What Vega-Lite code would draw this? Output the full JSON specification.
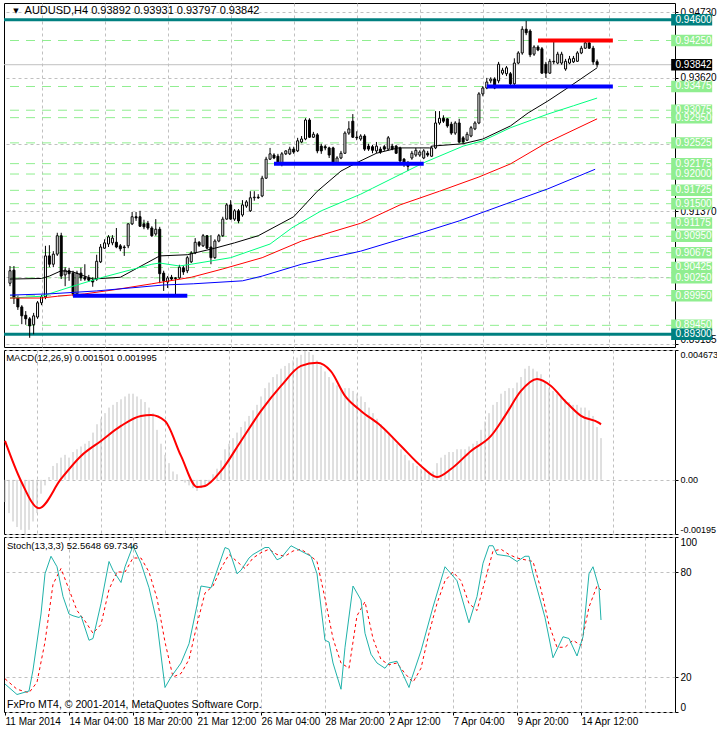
{
"$schema": "https://vega.github.io/schema/vega-lite/v6.json",
"background": "white",
"padding": {"left": 0, "top": 2, "right": 0, "bottom": 0},
"spacing": 3,
"bounds": "flush",
"config": {
  "font": "Liberation Sans",
  "view": {"stroke": "black", "strokeWidth": 1},
  "axis": {"gridColor": "#C0C0C0", "gridDash": [3, 3], "gridWidth": 1, "labelFont": "Liberation Sans", "labelFontSize": 10, "labelColor": "black", "tickColor": "black", "tickSize": 3, "domain": false, "labelPadding": 2}
},
"resolve": {"scale": {"x": "independent", "y": "independent"}},
"datasets": {
  "tags": [
    {"p": 0.9425, "k": "level"}, {"p": 0.93475, "k": "level"}, {"p": 0.93075, "k": "level"}, {"p": 0.9295, "k": "level"},
    {"p": 0.92525, "k": "level"}, {"p": 0.92175, "k": "level"}, {"p": 0.92, "k": "level"}, {"p": 0.91725, "k": "level"},
    {"p": 0.915, "k": "level"}, {"p": 0.91175, "k": "level"}, {"p": 0.9095, "k": "level"}, {"p": 0.90675, "k": "level"},
    {"p": 0.90425, "k": "level"}, {"p": 0.9025, "k": "level"}, {"p": 0.8995, "k": "level"}, {"p": 0.8945, "k": "level"},
    {"p": 0.946, "k": "teal"}, {"p": 0.893, "k": "teal"}, {"p": 0.93842, "k": "bid"}
  ],
  "segs": [
    {"a": 134, "b": 153, "p": 0.9425, "k": "r"},
    {"a": 121, "b": 153, "p": 0.93475, "k": "b"},
    {"a": 67, "b": 105, "p": 0.92175, "k": "b"},
    {"a": 16, "b": 45, "p": 0.8995, "k": "b"}
  ],
  "candles": [
    {"i":0,"o":0.9016,"h":0.9045,"l":0.9011,"c":0.9037},
    {"i":1,"o":0.9038,"h":0.9045,"l":0.8981,"c":0.8991},
    {"i":2,"o":0.8991,"h":0.8994,"l":0.8971,"c":0.8976},
    {"i":3,"o":0.8976,"h":0.8979,"l":0.8947,"c":0.8961},
    {"i":4,"o":0.8962,"h":0.8969,"l":0.8946,"c":0.8956},
    {"i":5,"o":0.8956,"h":0.8959,"l":0.8924,"c":0.8944},
    {"i":6,"o":0.8946,"h":0.8966,"l":0.8930,"c":0.8961},
    {"i":7,"o":0.8959,"h":0.8986,"l":0.8956,"c":0.8983},
    {"i":8,"o":0.8983,"h":0.8996,"l":0.8979,"c":0.8993},
    {"i":9,"o":0.8993,"h":0.9079,"l":0.8989,"c":0.9062},
    {"i":10,"o":0.9062,"h":0.9080,"l":0.9043,"c":0.9048},
    {"i":11,"o":0.9048,"h":0.9070,"l":0.9043,"c":0.9065},
    {"i":12,"o":0.9065,"h":0.9101,"l":0.9062,"c":0.9096},
    {"i":13,"o":0.9096,"h":0.9101,"l":0.9023,"c":0.9028},
    {"i":14,"o":0.9030,"h":0.9043,"l":0.9011,"c":0.9038},
    {"i":15,"o":0.9037,"h":0.9042,"l":0.9020,"c":0.9032},
    {"i":16,"o":0.9033,"h":0.9037,"l":0.8994,"c":0.8998},
    {"i":17,"o":0.8998,"h":0.9037,"l":0.8994,"c":0.9033},
    {"i":18,"o":0.9033,"h":0.9042,"l":0.9020,"c":0.9025},
    {"i":19,"o":0.9026,"h":0.9048,"l":0.9020,"c":0.9023},
    {"i":20,"o":0.9025,"h":0.9030,"l":0.9018,"c":0.9021},
    {"i":21,"o":0.9021,"h":0.9026,"l":0.9010,"c":0.9018},
    {"i":22,"o":0.9023,"h":0.9064,"l":0.9020,"c":0.9053},
    {"i":23,"o":0.9052,"h":0.9082,"l":0.9050,"c":0.9077},
    {"i":24,"o":0.9075,"h":0.9090,"l":0.9074,"c":0.9084},
    {"i":25,"o":0.9082,"h":0.9097,"l":0.9077,"c":0.9094},
    {"i":26,"o":0.9084,"h":0.9097,"l":0.9080,"c":0.9092},
    {"i":27,"o":0.9085,"h":0.9109,"l":0.9075,"c":0.9077},
    {"i":28,"o":0.9079,"h":0.9082,"l":0.9070,"c":0.9074},
    {"i":29,"o":0.9077,"h":0.9080,"l":0.9062,"c":0.9076},
    {"i":30,"o":0.9079,"h":0.9117,"l":0.9075,"c":0.9116},
    {"i":31,"o":0.9116,"h":0.9136,"l":0.9114,"c":0.9128},
    {"i":32,"o":0.9128,"h":0.9136,"l":0.9121,"c":0.9126},
    {"i":33,"o":0.9128,"h":0.9138,"l":0.9111,"c":0.9112},
    {"i":34,"o":0.9116,"h":0.9123,"l":0.9107,"c":0.9111},
    {"i":35,"o":0.9117,"h":0.9121,"l":0.9106,"c":0.9109},
    {"i":36,"o":0.9109,"h":0.9112,"l":0.9094,"c":0.9096},
    {"i":37,"o":0.9099,"h":0.9124,"l":0.9096,"c":0.9107},
    {"i":38,"o":0.9107,"h":0.9111,"l":0.9016,"c":0.9032},
    {"i":39,"o":0.9033,"h":0.9037,"l":0.9003,"c":0.9020},
    {"i":40,"o":0.9018,"h":0.9028,"l":0.9008,"c":0.9025},
    {"i":41,"o":0.9026,"h":0.9030,"l":0.9020,"c":0.9023},
    {"i":42,"o":0.9025,"h":0.9026,"l":0.8994,"c":0.9024},
    {"i":43,"o":0.9025,"h":0.9047,"l":0.9023,"c":0.9043},
    {"i":44,"o":0.9042,"h":0.9045,"l":0.9030,"c":0.9035},
    {"i":45,"o":0.9037,"h":0.9062,"l":0.9033,"c":0.9059},
    {"i":46,"o":0.9052,"h":0.9070,"l":0.9050,"c":0.9067},
    {"i":47,"o":0.9067,"h":0.9092,"l":0.9065,"c":0.9085},
    {"i":48,"o":0.9085,"h":0.9087,"l":0.9077,"c":0.9080},
    {"i":49,"o":0.9079,"h":0.9099,"l":0.9077,"c":0.9096},
    {"i":50,"o":0.9096,"h":0.9097,"l":0.9074,"c":0.9075},
    {"i":51,"o":0.9077,"h":0.9097,"l":0.9048,"c":0.9059},
    {"i":52,"o":0.9059,"h":0.9090,"l":0.9057,"c":0.9087},
    {"i":53,"o":0.9087,"h":0.9099,"l":0.9085,"c":0.9096},
    {"i":54,"o":0.9096,"h":0.9128,"l":0.9094,"c":0.9124},
    {"i":55,"o":0.9124,"h":0.9151,"l":0.9123,"c":0.9148},
    {"i":56,"o":0.9148,"h":0.9156,"l":0.9123,"c":0.9124},
    {"i":57,"o":0.9124,"h":0.9141,"l":0.9121,"c":0.9138},
    {"i":58,"o":0.9138,"h":0.9141,"l":0.9117,"c":0.9121},
    {"i":59,"o":0.9131,"h":0.9156,"l":0.9128,"c":0.9148},
    {"i":60,"o":0.9146,"h":0.9156,"l":0.9143,"c":0.9153},
    {"i":61,"o":0.9138,"h":0.9171,"l":0.9136,"c":0.9160},
    {"i":62,"o":0.9160,"h":0.9171,"l":0.9155,"c":0.9161},
    {"i":63,"o":0.9161,"h":0.9166,"l":0.9158,"c":0.9160},
    {"i":64,"o":0.9163,"h":0.9197,"l":0.9161,"c":0.9193},
    {"i":65,"o":0.9193,"h":0.9229,"l":0.9192,"c":0.9225},
    {"i":66,"o":0.9225,"h":0.9244,"l":0.9224,"c":0.9234},
    {"i":67,"o":0.9232,"h":0.9235,"l":0.9225,"c":0.9227},
    {"i":68,"o":0.9230,"h":0.9234,"l":0.9215,"c":0.9217},
    {"i":69,"o":0.9217,"h":0.9237,"l":0.9213,"c":0.9234},
    {"i":70,"o":0.9234,"h":0.9240,"l":0.9232,"c":0.9239},
    {"i":71,"o":0.9234,"h":0.9246,"l":0.9232,"c":0.9242},
    {"i":72,"o":0.9242,"h":0.9246,"l":0.9234,"c":0.9237},
    {"i":73,"o":0.9239,"h":0.9261,"l":0.9237,"c":0.9256},
    {"i":74,"o":0.9254,"h":0.9264,"l":0.9252,"c":0.9259},
    {"i":75,"o":0.9259,"h":0.9294,"l":0.9257,"c":0.9291},
    {"i":76,"o":0.9291,"h":0.9294,"l":0.9261,"c":0.9262},
    {"i":77,"o":0.9262,"h":0.9271,"l":0.9261,"c":0.9267},
    {"i":78,"o":0.9266,"h":0.9269,"l":0.9235,"c":0.9239},
    {"i":79,"o":0.9247,"h":0.9251,"l":0.9234,"c":0.9239},
    {"i":80,"o":0.9246,"h":0.9249,"l":0.9240,"c":0.9244},
    {"i":81,"o":0.9244,"h":0.9246,"l":0.9227,"c":0.9232},
    {"i":82,"o":0.9244,"h":0.9246,"l":0.9215,"c":0.9217},
    {"i":83,"o":0.9219,"h":0.9230,"l":0.9217,"c":0.9227},
    {"i":84,"o":0.9227,"h":0.9239,"l":0.9225,"c":0.9235},
    {"i":85,"o":0.9235,"h":0.9272,"l":0.9234,"c":0.9269},
    {"i":86,"o":0.9269,"h":0.9289,"l":0.9266,"c":0.9276},
    {"i":87,"o":0.9289,"h":0.9301,"l":0.9261,"c":0.9262},
    {"i":88,"o":0.9262,"h":0.9272,"l":0.9257,"c":0.9261},
    {"i":89,"o":0.9259,"h":0.9267,"l":0.9256,"c":0.9264},
    {"i":90,"o":0.9264,"h":0.9267,"l":0.9239,"c":0.9242},
    {"i":91,"o":0.9247,"h":0.9251,"l":0.9239,"c":0.9242},
    {"i":92,"o":0.9246,"h":0.9249,"l":0.9235,"c":0.9240},
    {"i":93,"o":0.9239,"h":0.9254,"l":0.9235,"c":0.9247},
    {"i":94,"o":0.9242,"h":0.9246,"l":0.9234,"c":0.9237},
    {"i":95,"o":0.9246,"h":0.9249,"l":0.9239,"c":0.9242},
    {"i":96,"o":0.9242,"h":0.9264,"l":0.9240,"c":0.9261},
    {"i":97,"o":0.9247,"h":0.9251,"l":0.9240,"c":0.9242},
    {"i":98,"o":0.9247,"h":0.9249,"l":0.9234,"c":0.9235},
    {"i":99,"o":0.9244,"h":0.9246,"l":0.9220,"c":0.9222},
    {"i":100,"o":0.9225,"h":0.9227,"l":0.9212,"c":0.9217},
    {"i":101,"o":0.9219,"h":0.9222,"l":0.9205,"c":0.9213},
    {"i":102,"o":0.9227,"h":0.9239,"l":0.9224,"c":0.9235},
    {"i":103,"o":0.9232,"h":0.9244,"l":0.9229,"c":0.9240},
    {"i":104,"o":0.9232,"h":0.9240,"l":0.9229,"c":0.9237},
    {"i":105,"o":0.9227,"h":0.9242,"l":0.9225,"c":0.9239},
    {"i":106,"o":0.9235,"h":0.9239,"l":0.9229,"c":0.9232},
    {"i":107,"o":0.9230,"h":0.9247,"l":0.9229,"c":0.9244},
    {"i":108,"o":0.9244,"h":0.9306,"l":0.9242,"c":0.9286},
    {"i":109,"o":0.9286,"h":0.9306,"l":0.9283,"c":0.9294},
    {"i":110,"o":0.9294,"h":0.9299,"l":0.9286,"c":0.9289},
    {"i":111,"o":0.9293,"h":0.9294,"l":0.9278,"c":0.9281},
    {"i":112,"o":0.9284,"h":0.9288,"l":0.9266,"c":0.9269},
    {"i":113,"o":0.9269,"h":0.9289,"l":0.9266,"c":0.9286},
    {"i":114,"o":0.9286,"h":0.9293,"l":0.9252,"c":0.9254},
    {"i":115,"o":0.9261,"h":0.9264,"l":0.9251,"c":0.9254},
    {"i":116,"o":0.9257,"h":0.9271,"l":0.9256,"c":0.9267},
    {"i":117,"o":0.9264,"h":0.9281,"l":0.9262,"c":0.9278},
    {"i":118,"o":0.9276,"h":0.9289,"l":0.9274,"c":0.9286},
    {"i":119,"o":0.9286,"h":0.9338,"l":0.9284,"c":0.9335},
    {"i":120,"o":0.9335,"h":0.9348,"l":0.9331,"c":0.9345},
    {"i":121,"o":0.9345,"h":0.9362,"l":0.9343,"c":0.9355},
    {"i":122,"o":0.9357,"h":0.9363,"l":0.9353,"c":0.9360},
    {"i":123,"o":0.9360,"h":0.9363,"l":0.9343,"c":0.9345},
    {"i":124,"o":0.9357,"h":0.9389,"l":0.9353,"c":0.9385},
    {"i":125,"o":0.9370,"h":0.9379,"l":0.9367,"c":0.9375},
    {"i":126,"o":0.9369,"h":0.9382,"l":0.9365,"c":0.9379},
    {"i":127,"o":0.9369,"h":0.9372,"l":0.9348,"c":0.9352},
    {"i":128,"o":0.9352,"h":0.9395,"l":0.9348,"c":0.9387},
    {"i":129,"o":0.9387,"h":0.9407,"l":0.9385,"c":0.9404},
    {"i":130,"o":0.9404,"h":0.9449,"l":0.9401,"c":0.9444},
    {"i":131,"o":0.9444,"h":0.9458,"l":0.9434,"c":0.9438},
    {"i":132,"o":0.9441,"h":0.9444,"l":0.9397,"c":0.9401},
    {"i":133,"o":0.9402,"h":0.9417,"l":0.9399,"c":0.9414},
    {"i":134,"o":0.9414,"h":0.9417,"l":0.9407,"c":0.9409},
    {"i":135,"o":0.9411,"h":0.9414,"l":0.9369,"c":0.9370},
    {"i":136,"o":0.9385,"h":0.9389,"l":0.9362,"c":0.9370},
    {"i":137,"o":0.9370,"h":0.9394,"l":0.9369,"c":0.9390},
    {"i":138,"o":0.9390,"h":0.9424,"l":0.9385,"c":0.9389},
    {"i":139,"o":0.9387,"h":0.9406,"l":0.9385,"c":0.9402},
    {"i":140,"o":0.9387,"h":0.9406,"l":0.9384,"c":0.9402},
    {"i":141,"o":0.9377,"h":0.9394,"l":0.9374,"c":0.9390},
    {"i":142,"o":0.9387,"h":0.9399,"l":0.9385,"c":0.9394},
    {"i":143,"o":0.9389,"h":0.9399,"l":0.9387,"c":0.9395},
    {"i":144,"o":0.9390,"h":0.9407,"l":0.9389,"c":0.9404},
    {"i":145,"o":0.9404,"h":0.9416,"l":0.9402,"c":0.9412},
    {"i":146,"o":0.9412,"h":0.9424,"l":0.9411,"c":0.9421},
    {"i":147,"o":0.9421,"h":0.9424,"l":0.9411,"c":0.9412},
    {"i":148,"o":0.9412,"h":0.9416,"l":0.9384,"c":0.9389},
    {"i":149,"o":0.93892,"h":0.93931,"l":0.93797,"c":0.93842}
  ],
  "ma": [
    {"i":0,"s":"a","v":0.9023},{"i":8,"s":"a","v":0.9024},{"i":10,"s":"a","v":0.9028},{"i":13,"s":"a","v":0.9037},{"i":16,"s":"a","v":0.9035},{"i":21,"s":"a","v":0.9023},{"i":28,"s":"a","v":0.9026},{"i":38,"s":"a","v":0.9062},{"i":45,"s":"a","v":0.9064},{"i":52,"s":"a","v":0.9075},{"i":57,"s":"a","v":0.9084},{"i":63,"s":"a","v":0.9096},{"i":72,"s":"a","v":0.9128},{"i":78,"s":"a","v":0.9171},{"i":84,"s":"a","v":0.9205},{"i":88,"s":"a","v":0.9219},{"i":93,"s":"a","v":0.9235},{"i":98.5,"s":"a","v":0.9244},{"i":106.5,"s":"a","v":0.9244},{"i":107,"s":"a","v":0.9247},{"i":115,"s":"a","v":0.9251},{"i":120,"s":"a","v":0.9259},{"i":127,"s":"a","v":0.9281},{"i":131.5,"s":"a","v":0.9303},{"i":136.5,"s":"a","v":0.9323},{"i":141.5,"s":"a","v":0.9345},{"i":149,"s":"a","v":0.9379},
    {"i":0,"s":"b","v":0.8991},{"i":8,"s":"b","v":0.8994},{"i":16,"s":"b","v":0.9011},{"i":23,"s":"b","v":0.9025},{"i":36,"s":"b","v":0.9048},{"i":38,"s":"b","v":0.9050},{"i":43,"s":"b","v":0.9045},{"i":46,"s":"b","v":0.9048},{"i":56,"s":"b","v":0.9059},{"i":66,"s":"b","v":0.9082},{"i":71.5,"s":"b","v":0.9109},{"i":79,"s":"b","v":0.9138},{"i":89,"s":"b","v":0.9166},{"i":92,"s":"b","v":0.9176},{"i":105,"s":"b","v":0.9219},{"i":115,"s":"b","v":0.9247},{"i":120,"s":"b","v":0.9256},{"i":127,"s":"b","v":0.9278},{"i":136.5,"s":"b","v":0.9301},{"i":143,"s":"b","v":0.9315},{"i":149,"s":"b","v":0.9328},
    {"i":0,"s":"c","v":0.8991},{"i":8,"s":"c","v":0.8991},{"i":12,"s":"c","v":0.8994},{"i":19,"s":"c","v":0.8998},{"i":26.5,"s":"c","v":0.9005},{"i":36,"s":"c","v":0.9015},{"i":46,"s":"c","v":0.9026},{"i":54,"s":"c","v":0.9040},{"i":64,"s":"c","v":0.9059},{"i":74,"s":"c","v":0.9087},{"i":89,"s":"c","v":0.9117},{"i":99,"s":"c","v":0.9148},{"i":109,"s":"c","v":0.9171},{"i":119,"s":"c","v":0.9195},{"i":127,"s":"c","v":0.9217},{"i":136,"s":"c","v":0.9252},{"i":149,"s":"c","v":0.9293},
    {"i":0,"s":"d","v":0.8996},{"i":10,"s":"d","v":0.8998},{"i":22,"s":"d","v":0.9003},{"i":39,"s":"d","v":0.9013},{"i":46.5,"s":"d","v":0.9015},{"i":59,"s":"d","v":0.9020},{"i":64,"s":"d","v":0.9028},{"i":74,"s":"d","v":0.9048},{"i":89,"s":"d","v":0.9070},{"i":102,"s":"d","v":0.9096},{"i":114,"s":"d","v":0.9121},{"i":126,"s":"d","v":0.9150},{"i":136.5,"s":"d","v":0.9175},{"i":148.5,"s":"d","v":0.9208}
  ],
  "macd": [
    {"i":0,"m":-0.0008},{"i":1,"m":-0.0012},{"i":2,"m":-0.0015},{"i":3,"m":-0.0017},{"i":4,"m":-0.0018},{"i":5,"m":-0.00195},{"i":6,"m":-0.0018},{"i":7,"m":-0.0015},{"i":8,"m":-0.0012},{"i":9,"m":-0.0005},
    {"i":10,"m":-0.0002},{"i":11,"m":0.0001},{"i":12,"m":0.0005},{"i":13,"m":0.0006},{"i":14,"m":0.0008},{"i":15,"m":0.0009},{"i":16,"m":0.0008},{"i":17,"m":0.001},{"i":18,"m":0.0011},{"i":19,"m":0.0012},
    {"i":20,"m":0.0013},{"i":21,"m":0.0014},{"i":22,"m":0.0017},{"i":23,"m":0.002},{"i":24,"m":0.0022},{"i":25,"m":0.0024},{"i":26,"m":0.0026},{"i":27,"m":0.0027},{"i":28,"m":0.0028},{"i":29,"m":0.0029},
    {"i":30,"m":0.003},{"i":31,"m":0.0031},{"i":32,"m":0.0031},{"i":33,"m":0.003},{"i":34,"m":0.0029},{"i":35,"m":0.0028},{"i":36,"m":0.0026},{"i":37,"m":0.0024},{"i":38,"m":0.0018},{"i":39,"m":0.0013},
    {"i":40,"m":0.0009},{"i":41,"m":0.0006},{"i":42,"m":0.0003},{"i":43,"m":0.0002},{"i":44,"m":0.0},{"i":45,"m":-0.0001},{"i":46,"m":-0.0002},{"i":47,"m":-0.0003},{"i":48,"m":-0.0004},{"i":49,"m":-0.0003},
    {"i":50,"m":-0.0002},{"i":51,"m":-0.0001},{"i":52,"m":0.0002},{"i":53,"m":0.0004},{"i":54,"m":0.0007},{"i":55,"m":0.0011},{"i":56,"m":0.0013},{"i":57,"m":0.0015},{"i":58,"m":0.0017},{"i":59,"m":0.0019},
    {"i":60,"m":0.0021},{"i":61,"m":0.0023},{"i":62,"m":0.0025},{"i":63,"m":0.0027},{"i":64,"m":0.003},{"i":65,"m":0.0033},{"i":66,"m":0.0035},{"i":67,"m":0.0037},{"i":68,"m":0.0038},{"i":69,"m":0.004},
    {"i":70,"m":0.0041},{"i":71,"m":0.0042},{"i":72,"m":0.0043},{"i":73,"m":0.0044},{"i":74,"m":0.0045},{"i":75,"m":0.004673},{"i":76,"m":0.0046},{"i":77,"m":0.0045},{"i":78,"m":0.0043},{"i":79,"m":0.0041},
    {"i":80,"m":0.0039},{"i":81,"m":0.0037},{"i":82,"m":0.0035},{"i":83,"m":0.0034},{"i":84,"m":0.0033},{"i":85,"m":0.0033},{"i":86,"m":0.0033},{"i":87,"m":0.0032},{"i":88,"m":0.0031},{"i":89,"m":0.003},
    {"i":90,"m":0.0028},{"i":91,"m":0.0026},{"i":92,"m":0.0024},{"i":93,"m":0.0022},{"i":94,"m":0.002},{"i":95,"m":0.0018},{"i":96,"m":0.0017},{"i":97,"m":0.0015},{"i":98,"m":0.0013},{"i":99,"m":0.0011},
    {"i":100,"m":0.0009},{"i":101,"m":0.0007},{"i":102,"m":0.0006},{"i":103,"m":0.0005},{"i":104,"m":0.0004},{"i":105,"m":0.00035},{"i":106,"m":0.0003},{"i":107,"m":0.0003},{"i":108,"m":0.0006},{"i":109,"m":0.0008},
    {"i":110,"m":0.0009},{"i":111,"m":0.001},{"i":112,"m":0.001},{"i":113,"m":0.0011},{"i":114,"m":0.0011},{"i":115,"m":0.0011},{"i":116,"m":0.0012},{"i":117,"m":0.0013},{"i":118,"m":0.0014},{"i":119,"m":0.0018},
    {"i":120,"m":0.0021},{"i":121,"m":0.0024},{"i":122,"m":0.0027},{"i":123,"m":0.0028},{"i":124,"m":0.0031},{"i":125,"m":0.0032},{"i":126,"m":0.0033},{"i":127,"m":0.0033},{"i":128,"m":0.0035},{"i":129,"m":0.0037},
    {"i":130,"m":0.004},{"i":131,"m":0.0041},{"i":132,"m":0.004},{"i":133,"m":0.0039},{"i":134,"m":0.0038},{"i":135,"m":0.0035},{"i":136,"m":0.0033},{"i":137,"m":0.0032},{"i":138,"m":0.0031},{"i":139,"m":0.003},
    {"i":140,"m":0.0029},{"i":141,"m":0.0028},{"i":142,"m":0.0027},{"i":143,"m":0.0027},{"i":144,"m":0.0026},{"i":145,"m":0.0026},{"i":146,"m":0.0025},{"i":147,"m":0.0023},{"i":148,"m":0.0019},{"i":149,"m":0.001501}
  ],
  "sig": [
    {"i":0,"v":0.0014},{"i":4,"v":-0.00004},{"i":8.5,"v":-0.00102},{"i":14,"v":0.00003},{"i":19,"v":0.00086},{"i":24,"v":0.0014},{"i":29,"v":0.00194},{"i":34,"v":0.0023},{"i":36.5,"v":0.00233},{"i":40,"v":0.00212},{"i":44,"v":0.00086},{"i":48,"v":-0.00026},{"i":50,"v":-0.00022},{"i":54,"v":0.00032},{"i":59,"v":0.0014},{"i":64,"v":0.00248},{"i":69,"v":0.00338},{"i":74,"v":0.0041},{"i":78,"v":0.00421},{"i":81.5,"v":0.0039},{"i":85,"v":0.00302},{"i":89,"v":0.00248},{"i":94,"v":0.00194},{"i":99,"v":0.00122},{"i":104,"v":0.0005},{"i":108,"v":0.0001},{"i":111.5,"v":0.00039},{"i":116.5,"v":0.00104},{"i":121.5,"v":0.00158},{"i":125,"v":0.0023},{"i":129,"v":0.0032},{"i":133,"v":0.00363},{"i":136.5,"v":0.00338},{"i":140,"v":0.00284},{"i":144,"v":0.0023},{"i":148.5,"v":0.00205},{"i":149,"v":0.001995}
  ],
  "stk": [
    {"i":0,"v":16},{"i":3,"v":10},{"i":6,"v":12},{"i":7,"v":24},{"i":9,"v":56},{"i":10,"v":79},{"i":11.5,"v":89},{"i":13,"v":83},{"i":14.5,"v":66},{"i":16,"v":56},{"i":17,"v":55},{"i":18.5,"v":54},{"i":19,"v":55},{"i":21,"v":41},{"i":22,"v":42},{"i":24,"v":62},{"i":26,"v":86},{"i":27,"v":81},{"i":29,"v":74},{"i":30,"v":83},{"i":32,"v":95},{"i":34,"v":85},{"i":36,"v":71},{"i":38,"v":51},{"i":40,"v":14},{"i":41.5,"v":20},{"i":44,"v":28},{"i":46,"v":39},{"i":49,"v":72},{"i":51.5,"v":71},{"i":55,"v":94},{"i":56,"v":93},{"i":58,"v":79},{"i":59,"v":81},{"i":61,"v":88},{"i":62,"v":90},{"i":65,"v":94},{"i":66,"v":94},{"i":68,"v":87},{"i":69,"v":88},{"i":71.5,"v":95},{"i":74,"v":92},{"i":76.5,"v":89},{"i":78,"v":79},{"i":80,"v":41},{"i":81,"v":40},{"i":82,"v":28},{"i":84,"v":13},{"i":85,"v":37},{"i":87,"v":72},{"i":89,"v":64},{"i":90,"v":45},{"i":91.5,"v":33},{"i":93,"v":28},{"i":95,"v":25},{"i":96,"v":28},{"i":98,"v":29},{"i":99,"v":24},{"i":101,"v":14},{"i":101.5,"v":18},{"i":104,"v":35},{"i":107,"v":60},{"i":110,"v":83},{"i":113,"v":75},{"i":114,"v":67},{"i":116,"v":51},{"i":118,"v":66},{"i":119.5,"v":85},{"i":121,"v":95},{"i":122,"v":95},{"i":123,"v":90},{"i":126,"v":89},{"i":128,"v":86},{"i":130,"v":89},{"i":131,"v":89},{"i":132,"v":79},{"i":135,"v":54},{"i":137,"v":31},{"i":139.5,"v":43},{"i":141,"v":42},{"i":143,"v":32},{"i":144.5,"v":43},{"i":146,"v":79},{"i":147,"v":83},{"i":148.5,"v":71},{"i":149,"v":52.5648}
  ],
  "std": [
    {"i":0,"v":19},{"i":3,"v":13},{"i":6,"v":11},{"i":8,"v":17},{"i":10,"v":40},{"i":12,"v":73},{"i":14,"v":82},{"i":16,"v":70},{"i":18,"v":58},{"i":20,"v":52},{"i":22,"v":45},{"i":24,"v":50},{"i":26,"v":70},{"i":28,"v":80},{"i":30,"v":80},{"i":32,"v":88},{"i":34,"v":88},{"i":36,"v":80},{"i":38,"v":65},{"i":40,"v":40},{"i":42,"v":20},{"i":44,"v":22},{"i":46,"v":30},{"i":48,"v":50},{"i":50,"v":68},{"i":52,"v":72},{"i":54,"v":82},{"i":56,"v":90},{"i":58,"v":86},{"i":60,"v":82},{"i":62,"v":88},{"i":64,"v":91},{"i":66,"v":93},{"i":68,"v":90},{"i":70,"v":89},{"i":72,"v":92},{"i":74,"v":93},{"i":76,"v":90},{"i":78,"v":86},{"i":80,"v":65},{"i":82,"v":42},{"i":84,"v":28},{"i":86,"v":25},{"i":88,"v":55},{"i":90,"v":63},{"i":92,"v":42},{"i":94,"v":30},{"i":96,"v":27},{"i":98,"v":28},{"i":100,"v":22},{"i":102,"v":17},{"i":104,"v":25},{"i":106,"v":45},{"i":108,"v":62},{"i":110,"v":75},{"i":112,"v":80},{"i":114,"v":75},{"i":116,"v":62},{"i":118,"v":58},{"i":120,"v":75},{"i":122,"v":92},{"i":124,"v":93},{"i":126,"v":90},{"i":128,"v":88},{"i":130,"v":87},{"i":132,"v":86},{"i":134,"v":70},{"i":136,"v":50},{"i":138,"v":37},{"i":140,"v":37},{"i":142,"v":41},{"i":144,"v":38},{"i":146,"v":60},{"i":148,"v":72},{"i":149,"v":69.7346}
  ]
},
"vconcat": [
  {
    "width": 671, "height": 344,
    "layer": [
      {"data": {"name": "candles"},
       "mark": {"type": "rule", "color": "black", "strokeWidth": 1},
       "encoding": {"x": {"field": "i", "type": "quantitative", "scale": {"domain": [-0.25, 167.5], "nice": false, "zero": false},
          "axis": {"values": [8,16,24,32,40,48,56,64,72,80,88,96,104,112,120,128,136,144,152,160], "labels": false, "ticks": false, "grid": true, "title": null, "domain": false}},
         "y": {"field": "l", "type": "quantitative", "scale": {"domain": [0.89085, 0.94882], "nice": false, "zero": false},
          "axis": {"orient": "right", "values": [0.9473, 0.94175, 0.9362, 0.93065, 0.9251, 0.91955, 0.9137, 0.90815, 0.9026, 0.8969, 0.89135],
            "labelExpr": "datum.value == 0.93065 || datum.value == 0.9251 || datum.value == 0.9026 ? '' : format(datum.value, '.5f')",
            "grid": true, "labelFlush": 8, "title": null, "domain": false, "ticks": true}},
         "y2": {"field": "h"}, "opacity": {"value": 0}}},
      {"data": {"name": "tags"}, "transform": [{"filter": "datum.k == 'level'"}],
       "mark": {"type": "rule", "color": "#90EE90", "strokeDash": [9, 7], "strokeWidth": 1},
       "encoding": {"y": {"field": "p", "type": "quantitative"}}},
      {"data": {"name": "tags"}, "transform": [{"filter": "datum.k == 'teal'"}],
       "mark": {"type": "rule", "color": "#008080", "strokeWidth": 3},
       "encoding": {"y": {"field": "p", "type": "quantitative"}}},
      {"data": {"name": "tags"}, "transform": [{"filter": "datum.k == 'bid'"}],
       "mark": {"type": "rule", "color": "#C0C0C0", "strokeWidth": 1},
       "encoding": {"y": {"field": "p", "type": "quantitative"}}},
      {"data": {"name": "candles"},
       "mark": {"type": "rule", "color": "black", "strokeWidth": 1},
       "encoding": {"x": {"field": "i", "type": "quantitative"},
         "y": {"field": "l", "type": "quantitative"}, "y2": {"field": "h"}}},
      {"data": {"name": "candles"},
       "mark": {"type": "bar", "orient": "vertical", "width": 2, "stroke": "black", "strokeWidth": 1},
       "encoding": {"x": {"field": "i", "type": "quantitative"},
         "y": {"field": "o", "type": "quantitative"}, "y2": {"field": "c"},
         "fill": {"condition": {"test": "datum.c > datum.o", "value": "white"}, "value": "black"}}},
      {"data": {"name": "ma"},
       "mark": {"type": "line", "strokeWidth": 1},
       "encoding": {"x": {"field": "i", "type": "quantitative"},
         "y": {"field": "v", "type": "quantitative"},
         "color": {"field": "s", "type": "nominal", "scale": {"domain": ["a", "b", "c", "d"], "range": ["black", "#00FF7F", "#FF0000", "#0000FF"]}, "legend": null}}},
      {"data": {"name": "segs"},
       "mark": {"type": "rule", "strokeWidth": 4},
       "encoding": {"x": {"field": "a", "type": "quantitative"}, "x2": {"field": "b"},
         "y": {"field": "p", "type": "quantitative"},
         "color": {"condition": {"test": "datum.k == 'r'", "value": "#FF0000"}, "value": "#0000FF"}}},
      {"data": {"values": [{"t": "AUDUSD,H4  0.93892 0.93931 0.93797 0.93842"}]},
       "mark": {"type": "text", "align": "left", "baseline": "middle", "fontSize": 11, "color": "black"},
       "encoding": {"x": {"datum": 3.7}, "y": {"datum": 0.9475}, "text": {"field": "t"}}},
      {"data": {"values": [{"t": "▼"}]},
       "mark": {"type": "text", "align": "left", "baseline": "middle", "fontSize": 7, "color": "black", "font": "DejaVu Sans"},
       "encoding": {"x": {"datum": 0.8}, "y": {"datum": 0.9475}, "text": {"field": "t"}}},
      {"data": {"name": "tags"},
       "mark": {"type": "point", "shape": "M-1,-0.28L1,-0.28L1,0.28L-1,0.28Z", "size": 1681, "filled": true, "opacity": 1, "strokeWidth": 0},
       "encoding": {"x": {"datum": 173}, "y": {"field": "p", "type": "quantitative"},
         "fill": {"condition": [{"test": "datum.k == 'teal'", "value": "#008080"}, {"test": "datum.k == 'bid'", "value": "black"}], "value": "#90EE90"}}},
      {"data": {"name": "tags"},
       "mark": {"type": "text", "align": "left", "baseline": "middle", "fontSize": 10, "color": "white"},
       "encoding": {"x": {"datum": 168.9}, "y": {"field": "p", "type": "quantitative"},
         "text": {"field": "p", "type": "quantitative", "format": ".5f"}}}
    ]
  },
  {
    "width": 671, "height": 184,
    "layer": [
      {"data": {"name": "macd"},
       "mark": {"type": "rule", "color": "#C0C0C0", "strokeWidth": 1},
       "encoding": {"x": {"field": "i", "type": "quantitative", "scale": {"domain": [-0.25, 167.5], "nice": false, "zero": false},
          "axis": {"values": [8,16,24,32,40,48,56,64,72,80,88,96,104,112,120,128,136,144,152,160], "labels": false, "ticks": false, "grid": true, "title": null, "domain": false}},
         "y": {"field": "m", "type": "quantitative", "scale": {"domain": [-0.00195, 0.004673], "nice": false, "zero": false},
          "axis": {"orient": "right", "values": [-0.00195, 0, 0.004673], "labelExpr": "datum.value == 0 ? '0.00' : (datum.value > 0 ? '0.004673' : '-0.00195')", "labelFontSize": 9, "grid": true, "labelFlush": true, "title": null, "domain": false}},
         "y2": {"datum": 0}}},
      {"data": {"name": "sig"},
       "mark": {"type": "line", "color": "#FF0000", "strokeWidth": 2, "interpolate": "monotone"},
       "encoding": {"x": {"field": "i", "type": "quantitative"},
         "y": {"field": "v", "type": "quantitative"}}},
      {"data": {"values": [{"t": "MACD(12,26,9) 0.001501 0.001995"}]},
       "mark": {"type": "text", "align": "left", "baseline": "middle", "fontSize": 9.5, "color": "black"},
       "encoding": {"x": {"datum": 0.3}, "y": {"datum": 0.00438}, "text": {"field": "t"}}}
    ]
  },
  {
    "width": 671, "height": 175,
    "layer": [
      {"data": {"name": "std"},
       "mark": {"type": "line", "color": "#FF0000", "strokeWidth": 1, "strokeDash": [3, 3]},
       "encoding": {"x": {"field": "i", "type": "quantitative", "scale": {"domain": [-0.25, 167.5], "nice": false, "zero": false},
          "axis": {"values": [0,8,16,24,32,40,48,56,64,72,80,88,96,104,112,120,128,136,144,152,160],
            "labelExpr": "datum.value % 16 == 0 && datum.value < 160 ? ['11 Mar 2014','14 Mar 04:00','18 Mar 20:00','21 Mar 12:00','26 Mar 04:00','28 Mar 20:00','2 Apr 12:00','7 Apr 04:00','9 Apr 20:00','14 Apr 12:00'][datum.value / 16] : ''",
            "labelAlign": "left", "labelPadding": 1, "labelOverlap": false, "labelFlush": false, "labelBound": false, "grid": true, "title": null, "domain": false,
            "gridOpacity": {"condition": {"test": "datum.value == 0", "value": 0}, "value": 1},
            "tickOpacity": {"condition": {"test": "datum.value % 16 != 0 || datum.value >= 160", "value": 0}, "value": 1}}},
         "y": {"field": "v", "type": "quantitative", "scale": {"domain": [0, 100], "nice": false, "zero": false},
          "axis": {"orient": "right", "values": [0, 20, 80, 100], "format": "d", "grid": true, "labelFlush": true, "title": null, "domain": false}}}},
      {"data": {"name": "stk"},
       "mark": {"type": "line", "color": "#20B2AA", "strokeWidth": 1},
       "encoding": {"x": {"field": "i", "type": "quantitative"},
         "y": {"field": "v", "type": "quantitative"}}},
      {"data": {"values": [{"t": "Stoch(13,3,3) 52.5648 69.7346"}]},
       "mark": {"type": "text", "align": "left", "baseline": "middle", "fontSize": 9.5, "color": "black"},
       "encoding": {"x": {"datum": 0.5}, "y": {"datum": 95}, "text": {"field": "t"}}},
      {"data": {"values": [{"t": "FxPro MT4, © 2001-2014, MetaQuotes Software Corp."}]},
       "mark": {"type": "text", "align": "left", "baseline": "middle", "fontSize": 10.5, "color": "black"},
       "encoding": {"x": {"datum": 0.5}, "y": {"datum": 4}, "text": {"field": "t"}}}
    ]
  }
]
}
